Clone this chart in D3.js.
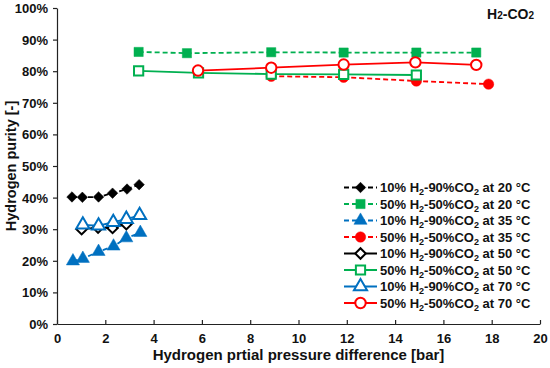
<!DOCTYPE html>
<html>
<head>
<meta charset="utf-8">
<script src="https://cdn.jsdelivr.net/npm/d3@7"></script>
<style>
  body { margin: 0; background: #fff; }
  svg { font-family: "Liberation Sans", Arial, sans-serif; font-weight: bold; }
</style>
</head>
<body>
<svg id="chart" width="550" height="368"></svg>
<script>
// H2-CO2 purity vs partial pressure difference

var xTicks = [0, 2, 4, 6, 8, 10, 12, 14, 16, 18, 20];
var yTicks = [0, 10, 20, 30, 40, 50, 60, 70, 80, 90, 100];

// 10% H2 at 20 C
var x10at20 = [0.62, 1.05, 1.72, 2.3, 2.9, 3.4];
var y10at20 = [40.2, 40.1, 40.2, 41.4, 42.7, 44.1];
// 50% H2 at 20 C
var x50at20 = [3.38, 5.38, 8.87, 11.87, 14.88, 17.36];
var y50at20 = [86.1, 85.7, 86.0, 85.9, 85.9, 85.9];
// 10% H2 at 35 C
var x10at35 = [0.66, 1.07, 1.72, 2.34, 2.87, 3.45];
var y10at35 = [19.9, 20.7, 22.9, 24.6, 27.2, 28.9];
// 50% H2 at 35 C
var x50at35 = [8.87, 11.87, 14.88, 17.87];
var y50at35 = [78.4, 78.1, 76.9, 75.9];
// 10% H2 at 50 C
var x10at50 = [1.02, 1.7, 2.3, 2.87];
var y10at50 = [30.0, 30.5, 30.4, 31.6];
// 50% H2 at 50 C
var x50at50 = [3.38, 5.86, 8.87, 11.87, 14.88];
var y50at50 = [80.1, 79.5, 79.1, 79.0, 78.8];
// 10% H2 at 70 C
var x10at70 = [1.07, 1.72, 2.33, 2.87, 3.42];
var y10at70 = [31.4, 31.1, 32.2, 33.2, 34.4];
// 50% H2 at 70 C
var x50at70 = [5.84, 8.87, 11.87, 14.84, 17.36];
var y50at70 = [80.2, 81.1, 82.1, 82.8, 82.0];

var series = [
  {h2: "10", co2: "90", t: 20, xs: x10at20, ys: y10at20, color: "#000000", shape: "diamond", fill: true, dash: true},
  {h2: "50", co2: "50", t: 20, xs: x50at20, ys: y50at20, color: "#00b050", shape: "square", fill: true, dash: true},
  {h2: "10", co2: "90", t: 35, xs: x10at35, ys: y10at35, color: "#0070c0", shape: "triangle", fill: true, dash: true},
  {h2: "50", co2: "50", t: 35, xs: x50at35, ys: y50at35, color: "#ff0000", shape: "circle", fill: true, dash: true},
  {h2: "10", co2: "90", t: 50, xs: x10at50, ys: y10at50, color: "#000000", shape: "diamond", fill: false, dash: false},
  {h2: "50", co2: "50", t: 50, xs: x50at50, ys: y50at50, color: "#00b050", shape: "square", fill: false, dash: false},
  {h2: "10", co2: "90", t: 70, xs: x10at70, ys: y10at70, color: "#0070c0", shape: "triangle", fill: false, dash: false},
  {h2: "50", co2: "50", t: 70, xs: x50at70, ys: y50at70, color: "#ff0000", shape: "circle", fill: false, dash: false}
];

var svg = d3.select("#chart");
var plotLeft = 57, plotRight = 540, plotTop = 8, plotBottom = 324;

var x = d3.scaleLinear().domain([0, 20]).range([plotLeft, plotRight]);
var y = d3.scaleLinear().domain([0, 100]).range([plotBottom, plotTop]);

// axes
var xAxis = d3.axisBottom(x).tickValues(xTicks).tickSizeInner(-4).tickSizeOuter(0).tickPadding(10);
var yAxis = d3.axisLeft(y).tickValues(yTicks).tickSizeInner(4).tickSizeOuter(0)
  .tickFormat(function (d) { return d + "%"; }).tickPadding(5);

var gx = svg.append("g").attr("transform", "translate(0," + plotBottom + ")").call(xAxis);
var gy = svg.append("g").attr("transform", "translate(" + plotLeft + ",0)").call(yAxis);
[gx, gy].forEach(function (g) {
  g.selectAll("path, line").attr("stroke", "#222").attr("stroke-width", 1.2);
  g.selectAll("text").attr("fill", "#111").style("font-size", "13px").style("font-weight", "bold")
    .style("font-family", "'Liberation Sans', Arial, sans-serif");
});
gy.selectAll("text").attr("dy", "0.35em");

svg.append("text").attr("x", (plotLeft + plotRight) / 2).attr("y", 360)
  .attr("text-anchor", "middle").style("font-size", "15px").attr("fill", "#111")
  .text("Hydrogen prtial pressure difference [bar]");
svg.append("text").attr("transform", "translate(16," + (plotTop + plotBottom) / 2 + ") rotate(-90)")
  .attr("text-anchor", "middle").style("font-size", "14.5px").attr("fill", "#111")
  .text("Hydrogen purity [-]");

// title H2-CO2
var title = svg.append("text").attr("x", 534).attr("y", 19).attr("text-anchor", "end")
  .style("font-size", "14px").attr("fill", "#111");
title.append("tspan").text("H");
title.append("tspan").text("2").style("font-size", "10px");
title.append("tspan").text("-CO");
title.append("tspan").text("2").style("font-size", "10px");

var symbolOf = {
  diamond: d3.symbol().type(d3.symbolSquare).size(55),
  square: d3.symbol().type(d3.symbolSquare).size(85),
  triangle: d3.symbol().type(d3.symbolTriangle).size(75),
  circle: d3.symbol().type(d3.symbolCircle).size(85)
};

var drawMarker = function (g, s, cx, cy) {
  var m = g.append("path").attr("d", symbolOf[s.shape]())
    .attr("transform", "translate(" + cx + "," + cy + ")" + (s.shape === "diamond" ? " rotate(45)" : ""));
  if (s.fill) m.attr("fill", s.color).attr("stroke", s.color).attr("stroke-width", 0.5);
  else m.attr("fill", "#fff").attr("stroke", s.color).attr("stroke-width", 2);
};

var line = d3.line().x(function (d) { return x(d[0]); }).y(function (d) { return y(d[1]); });

var plot = svg.append("g");
series.forEach(function (s) {
  var pts = d3.zip(s.xs, s.ys);
  var g = plot.append("g");
  g.append("path").datum(pts).attr("d", line).attr("fill", "none")
    .attr("stroke", s.color).attr("stroke-width", 1.8)
    .attr("stroke-dasharray", s.dash ? "5,3" : null);
  pts.forEach(function (p) { drawMarker(g, s, x(p[0]), y(p[1])); });
});

// legend
var legend = svg.append("g");
series.forEach(function (s, i) {
  var ly = 187.5 + i * 16.5;
  var g = legend.append("g");
  g.append("line").attr("x1", 344).attr("x2", 377).attr("y1", ly).attr("y2", ly)
    .attr("stroke", s.color).attr("stroke-width", 1.8)
    .attr("stroke-dasharray", s.dash ? "5,3" : null);
  drawMarker(g, s, 360.5, ly);
  var t = g.append("text").attr("x", 380).attr("y", ly + 4.5).style("font-size", "13px").attr("fill", "#111");
  t.append("tspan").text(s.h2 + "% H");
  t.append("tspan").text("2").attr("dy", 3).style("font-size", "9px");
  t.append("tspan").text("-" + s.co2 + "%CO").attr("dy", -3);
  t.append("tspan").text("2").attr("dy", 3).style("font-size", "9px");
  t.append("tspan").text(" at " + s.t + " °C").attr("dy", -3);
});
</script>
</body>
</html>
